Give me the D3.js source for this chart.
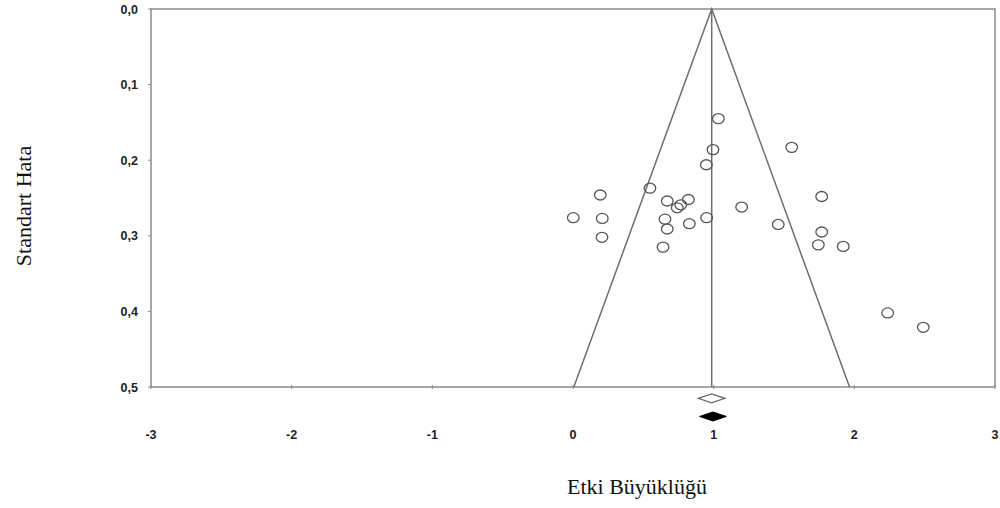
<!DOCTYPE html>
<html>
<head>
<meta charset="utf-8">
<script src="https://cdn.jsdelivr.net/npm/d3@7"></script>
<style>
  body { margin: 0; background: #fff; }
  .tick-label { font-family: "Liberation Sans", Arial, sans-serif; font-weight: bold; font-size: 12.5px; fill: #222; }
  .title { font-family: "Liberation Serif", "Times New Roman", serif; font-size: 22px; fill: #111; }
</style>
</head>
<body>
<div id="container"></div>
<script>
// effect sizes and standard errors of the studies
let effects = [1.033, 0.995, 0.948, 1.555, 0.547, 0.194, 0.670, 0.741, 0.766, 0.820,
  1.768, 1.199, 0.002, 0.208, 0.654, 0.950, 0.670, 0.827, 1.459, 0.206,
  1.768, 1.744, 0.640, 1.921, 2.237, 2.490];
let stdErrors = [0.145, 0.186, 0.206, 0.183, 0.237, 0.246, 0.254, 0.263, 0.259, 0.252,
  0.248, 0.262, 0.276, 0.277, 0.278, 0.276, 0.291, 0.284, 0.285, 0.302,
  0.295, 0.312, 0.315, 0.314, 0.402, 0.421];

let pooledEffect = 0.986;
// summary diamonds: [centre, lower, upper, row]
let observedDiamond = [0.985, 0.89, 1.08, 0.515];
let adjustedDiamond = [0.995, 0.90, 1.09, 0.539];

let xTicks = [-3, -2, -1, 0, 1, 2, 3];
let yTicks = [0.0, 0.1, 0.2, 0.3, 0.4, 0.5];

let width = 1000;
let height = 508;
let plotLeft = 151, plotRight = 995, plotTop = 9, plotBottom = 387;

let svg = d3.select('#container').append('svg')
    .attr('width', width).attr('height', height);

let xScale = d3.scaleLinear().domain([-3, 3]).range([plotLeft, plotRight]);
let yScale = d3.scaleLinear().domain([0, 0.5]).range([plotTop, plotBottom]);

let fmt = d => d3.format('.1f')(d).replace('.', ',');

// frame
svg.append('rect')
    .attr('x', plotLeft).attr('y', plotTop)
    .attr('width', plotRight - plotLeft).attr('height', plotBottom - plotTop)
    .attr('fill', 'none').attr('stroke', '#8a8a8a').attr('stroke-width', 1.5);

// small tick marks
svg.append('g').selectAll('line').data(yTicks).enter().append('line')
    .attr('x1', plotLeft - 3).attr('x2', plotLeft)
    .attr('y1', d => yScale(d)).attr('y2', d => yScale(d))
    .attr('stroke', '#8a8a8a');
svg.append('g').selectAll('line').data(xTicks).enter().append('line')
    .attr('x1', d => xScale(d)).attr('x2', d => xScale(d))
    .attr('y1', plotBottom - 2).attr('y2', plotBottom + 2)
    .attr('stroke', '#8a8a8a');

// tick labels
svg.append('g').selectAll('text').data(yTicks).enter().append('text')
    .attr('class', 'tick-label')
    .attr('x', plotLeft - 13).attr('y', d => yScale(d) + 4.5)
    .attr('text-anchor', 'end')
    .text(fmt);
svg.append('g').selectAll('text').data(xTicks).enter().append('text')
    .attr('class', 'tick-label')
    .attr('x', d => xScale(d)).attr('y', plotBottom + 52)
    .attr('text-anchor', 'middle')
    .text(d => d);

// funnel and pooled effect line
let funnel = d3.line().x(d => xScale(d[0])).y(d => yScale(d[1]));
svg.append('path')
    .attr('d', funnel([[pooledEffect - 1.96 * 0.5, 0.5], [pooledEffect, 0], [pooledEffect + 1.96 * 0.5, 0.5]]))
    .attr('fill', 'none').attr('stroke', '#6e6e6e').attr('stroke-width', 1.5);
svg.append('line')
    .attr('x1', xScale(pooledEffect)).attr('x2', xScale(pooledEffect))
    .attr('y1', yScale(0)).attr('y2', yScale(0.5))
    .attr('stroke', '#6e6e6e').attr('stroke-width', 1.5);

// studies
svg.append('g').selectAll('ellipse').data(effects).enter().append('ellipse')
    .attr('cx', d => xScale(d))
    .attr('cy', (d, i) => yScale(stdErrors[i]))
    .attr('rx', 5.8).attr('ry', 5)
    .attr('fill', 'none').attr('stroke', '#555').attr('stroke-width', 1.3);

// summary diamonds
let diamond = (d, h) => {
    let y = yScale(d[3]);
    return 'M' + xScale(d[1]) + ',' + y + 'L' + xScale(d[0]) + ',' + (y - h) +
        'L' + xScale(d[2]) + ',' + y + 'L' + xScale(d[0]) + ',' + (y + h) + 'Z';
};
svg.append('path').attr('d', diamond(observedDiamond, 4.5))
    .attr('fill', '#fff').attr('stroke', '#666').attr('stroke-width', 1.3);
svg.append('path').attr('d', diamond(adjustedDiamond, 4.5))
    .attr('fill', '#000').attr('stroke', '#000').attr('stroke-width', 1);

// axis titles
svg.append('text').attr('class', 'title')
    .attr('x', 637).attr('y', 494)
    .attr('text-anchor', 'middle')
    .text('Etki Büyüklüğü');
svg.append('text').attr('class', 'title')
    .attr('transform', 'translate(31,206) rotate(-90)')
    .attr('text-anchor', 'middle')
    .text('Standart Hata');
</script>
</body>
</html>
